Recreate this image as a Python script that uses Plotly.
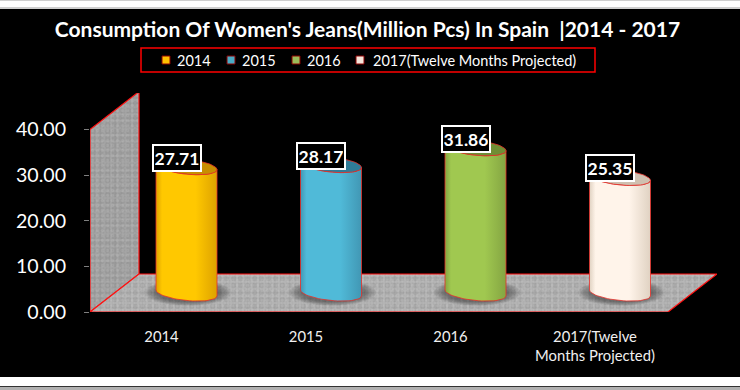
import numpy as np
import plotly.graph_objects as go

categories = ["2014", "2015", "2016", "2017(Twelve Months Projected)"]
tick_labels = ["2014", "2015", "2016", "2017(Twelve<br>Months Projected)"]
values = [27.71, 28.17, 31.86, 25.35]
y_ticks = [0, 10, 20, 30, 40]
body_edge = ["#DDA200", "#4197B4", "#84A542", "#E0D2C2"]
body_mid = ["#FFC800", "#50BAD8", "#A0C850", "#FFF4EA"]
top_fill = ["#C88E00", "#2F7C98", "#6F8E34", "#CFC0B0"]
swatch = ["#FFC000", "#4BACC6", "#9BBB59", "#F5E6DA"]
swatch_x = [162, 227, 292, 356]
label_x = [175, 240, 305, 371]

W, H = 740, 390
L, R, T, B = 90, 717, 93, 312
PX_Y = 4.56
PX_X = 144.5
X0 = 161.5
xr = [(L - X0) / PX_X, (R - X0) / PX_X]
yr = [0, (B - T) / PX_Y]
DX, DY = 49 / PX_X, 38 / PX_Y      # depth of the 3-D box
CDX, CDY = 25 / PX_X, 19 / PX_Y    # cylinders stand mid-depth
HW, RY, SH = 30.5 / PX_X, 7.5 / PX_Y, 3 / PX_Y
RED = "#FF1010"
FX = lambda p: (p - L) / (R - L)
FY = lambda p: (B - p) / (B - T)

fig = go.Figure()


def poly(xs, ys, **kw):
    fig.add_trace(go.Scatter(x=xs, y=ys, mode="lines", fill="toself", cliponaxis=False,
                             showlegend=False, hoverinfo="skip", **kw))


def textured(xs, ys, bg):
    poly(xs, ys, line=dict(width=0), fillcolor=bg)
    for size, sol, fg in [(7, 0.45, "rgba(120,120,120,0.4)"), (5, 0.35, "rgba(215,215,215,0.35)"),
                          (3, 0.3, "rgba(110,110,110,0.25)")]:
        poly(xs, ys, line=dict(width=0), fillcolor="rgba(0,0,0,0)",
             fillpattern=dict(shape=".", size=size, solidity=sol, fgcolor=fg, bgcolor="rgba(0,0,0,0)"))
    poly(xs, ys, line=dict(color=RED, width=1.2), fillcolor="rgba(0,0,0,0)")


# wall and floor
x_l = xr[0]
x_r = xr[1]
textured([x_l, x_l + DX, x_l + DX, x_l, x_l], [0, DY, 40 + DY, 40, 0], "#a4a4a4")
textured([x_l, x_l + DX, x_r, x_r - DX, x_l], [0, DY, DY, 0, 0], "#b4b4b4")

t = np.linspace(0, 2 * np.pi, 61)
for i, (v, name) in enumerate(zip(values, categories)):
    cx = i + CDX
    base = CDY
    top = base + v
    # floor shadow, soft edged
    for k in np.linspace(1.42, 1.02, 9):
        poly(list(cx + k * HW * np.cos(t) + 0.01), list(base + 1.25 * k * RY * np.sin(t) + 0.1),
             line=dict(width=0), fillcolor="rgba(40,40,40,0.07)")
    # body: front half of the lower ellipse, back along the front half of the upper one
    a1 = np.linspace(np.pi, 2 * np.pi, 31)
    bx = cx + HW * np.cos(a1)
    by = base + RY * np.sin(a1) - SH * np.cos(a1)
    a2 = a1[::-1]
    tx = cx + HW * np.cos(a2)
    ty = top + RY * np.sin(a2) - SH * np.cos(a2)
    poly(list(bx) + list(tx) + [bx[0]], list(by) + list(ty) + [by[0]],
         name=name, line=dict(color="#E8302A", width=0.8),
         fillgradient=dict(type="horizontal", colorscale=[[0, body_edge[i]], [0.1, body_mid[i]], [0.65, body_mid[i]], [1, body_edge[i]]]))
    # top ellipse
    poly(list(cx + HW * np.cos(t)), list(top + RY * np.sin(t) - SH * np.cos(t)),
         line=dict(color="#E8302A", width=0.8), fillcolor=top_fill[i])
    fig.add_annotation(x=cx, y=top, xref="x", yref="y", text=f"<b>{v:.2f}</b>", showarrow=False,
                       xshift=-10, yshift=9, width=44, height=22, bgcolor="#000000",
                       bordercolor="#FFFFFF", borderwidth=2, borderpad=1,
                       font=dict(family="Lato", size=17.5, color="#FFFFFF"))

# legend
for sx, lx, c, name in zip(swatch_x, label_x, swatch, categories):
    fig.add_shape(type="rect", xref="paper", yref="paper", x0=FX(sx), x1=FX(sx + 8), y0=FY(56), y1=FY(64),
                  fillcolor=c, line=dict(color="#8B0000", width=1))
    fig.add_annotation(xref="paper", yref="paper", x=FX(lx), y=FY(60), xanchor="left", yanchor="middle",
                       text=name, showarrow=False, font=dict(family="Lato", size=14.5, color="#FFFFFF"))
fig.add_shape(type="rect", xref="paper", yref="paper", x0=FX(141), x1=FX(595), y0=FY(48), y1=FY(72),
              line=dict(color="#FF0000", width=1.5))

# page frame
for y0, y1, c in [(9, 377, "#000000"), (0, 1, "#CFCFCF"), (7, 9, "#CFCFCF"), (386, 387, "#333333"), (387, 390, "#B0B0B0")]:
    fig.add_shape(type="rect", xref="paper", yref="paper", x0=FX(0), x1=FX(W), y0=FY(y0), y1=FY(y1),
                  fillcolor=c, line=dict(width=0), layer="below")

fig.update_layout(
    width=W, height=H, margin=dict(l=L, r=W - R, t=T, b=H - B),
    paper_bgcolor="#FFFFFF", plot_bgcolor="rgba(0,0,0,0)", showlegend=False,
    title=dict(text="<b>Consumption Of Women's Jeans(Million Pcs) In Spain  |2014 - 2017</b>",
               x=367.5 / W, xanchor="center", y=1 - 30 / H, yanchor="middle",
               font=dict(family="Lato", size=21, color="#FFFFFF")),
    xaxis=dict(range=xr, tickvals=list(range(4)), ticktext=tick_labels, showgrid=False, zeroline=False,
               ticks="", showline=False, ticklabelstandoff=14,
               tickfont=dict(family="Lato", size=14.8, color="#F0F0F0")),
    yaxis=dict(range=yr, tickvals=y_ticks, tickformat=".2f", showgrid=False, zeroline=False,
               ticks="outside", ticklen=5, tickcolor="#7F7F7F", tickwidth=1, showline=False,
               ticklabelstandoff=14, tickfont=dict(family="Lato", size=19.6, color="#FFFFFF")),
)
fig.write_html("out.html", post_script="document.body.style.margin='0';",
               config=dict(displayModeBar=False))
